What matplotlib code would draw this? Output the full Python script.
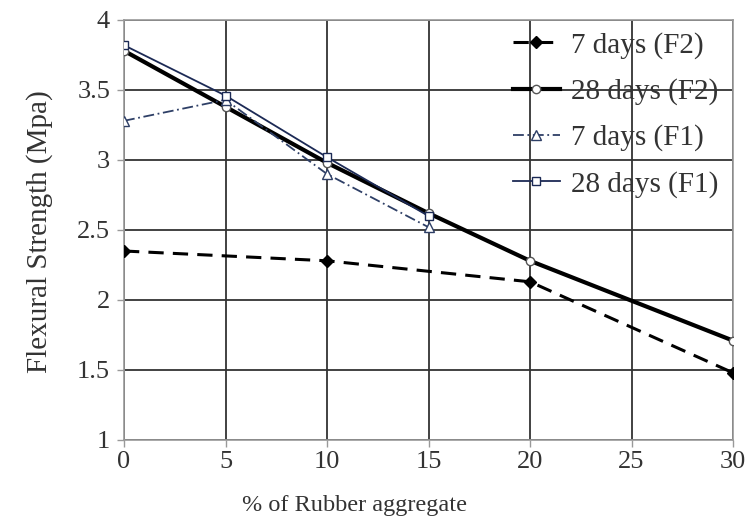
import matplotlib
matplotlib.use("Agg")
import matplotlib.pyplot as plt

x_f2 = [0, 5, 10, 15, 20, 30]
d7_f2_x = [0, 10, 20, 30]
d7_f2 = [2.35, 2.28, 2.13, 1.48]
d28_f2 = [3.78, 3.38, 2.98, 2.62, 2.28, 1.71]
x_f1 = [0, 5, 10, 15]
d7_f1 = [3.28, 3.43, 2.90, 2.52]
d28_f1 = [3.82, 3.46, 3.02, 2.60]

xticks = [0, 5, 10, 15, 20, 25, 30]
yticks = [1, 1.5, 2, 2.5, 3, 3.5, 4]
ytick_labels = ["1", "1.5", "2", "2.5", "3", "3.5", "4"]

plt.rcParams['font.family'] = ['Liberation Serif', 'DejaVu Serif']

W, H = 747, 526
fig = plt.figure(figsize=(W/100, H/100), dpi=100)
L, R, T, B = 124, 733, 20, 440
ax = fig.add_axes([L/W, 1-B/H, (R-L)/W, (B-T)/H])

ax.plot(d7_f2_x, d7_f2, color='black', linestyle=(0, (5, 3)), linewidth=2.2,
        marker='D', markersize=6.5, markerfacecolor='black', label='7 days (F2)', zorder=3)
ax.plot(x_f2, d28_f2, color='black', linewidth=3,
        marker='o', markersize=6, markerfacecolor='white', markeredgecolor='#555555',
        label='28 days (F2)', zorder=3)
ax.plot(x_f1, d7_f1, color='#2e3f66', linestyle=(0, (6, 2, 1, 2)), linewidth=1.3,
        marker='^', markersize=7, markerfacecolor='white', markeredgecolor='#2e3f66',
        label='7 days (F1)', zorder=3)
ax.plot(x_f1, d28_f1, color='#1c2a55', linewidth=1.3,
        marker='s', markersize=6, markerfacecolor='white', markeredgecolor='#1c2a55',
        label='28 days (F1)', zorder=3)

ax.set_xlim(0, 30)
ax.set_ylim(1, 4)
ax.set_xticks(xticks)
ax.set_yticks(yticks)
ax.set_yticklabels(ytick_labels)
ax.grid(True, color='#333333', linewidth=1.3)
for s in ax.spines.values():
    s.set_color('#999999')
    s.set_linewidth(1.2)
ax.tick_params(axis='both', labelsize=19, colors='#333333', length=5, width=1,
               direction='out', color='#999999')
ax.tick_params(axis='x', pad=3)
ax.tick_params(axis='y', pad=5)

fig.text(355/W, 1-505/H, '% of Rubber aggregate', fontsize=17.5, color='#333333',
         ha='center', va='center')
fig.text(40/W, 1-232/H, 'Flexural Strength (Mpa)', fontsize=21, color='#333333',
         ha='center', va='center', rotation=90)

leg = ax.legend(loc='upper left', bbox_to_anchor=((513-L)/(R-L), (B-32)/(B-T)),
                frameon=False, fontsize=21, handlelength=1.6,
                handletextpad=0.4, labelspacing=0.66, borderaxespad=0, borderpad=0,
                labelcolor='#333333')

fig.savefig('out.png', dpi=100)
